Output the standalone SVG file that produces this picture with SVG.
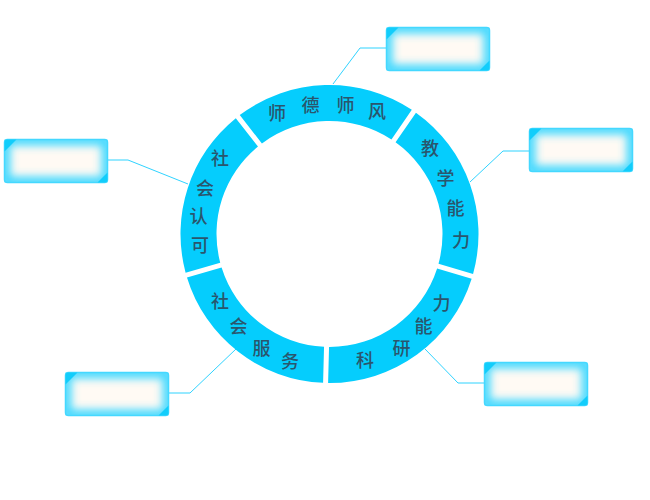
<svg xmlns="http://www.w3.org/2000/svg" width="650" height="500" viewBox="0 0 650 500">
<style>
.seg{fill:#05cdfd}
.lbl{font-family:"Noto Sans CJK SC","Noto Sans",sans-serif;font-size:18px;font-weight:500;fill:#2a566d;text-anchor:middle;dominant-baseline:central}
.conn{fill:none;stroke:#2fd3ff;stroke-width:1}
.bg{fill:#fffaf4}
.glow{fill:none;stroke:#45d9ff;stroke-width:12}
.edge{fill:none;stroke:#45d8ff;stroke-width:1.5}
.tri{fill:#12cdfb}
</style>
<defs>
<filter id="blur" x="-20%" y="-50%" width="140%" height="200%"><feGaussianBlur stdDeviation="4"/></filter>
<clipPath id="cb" clipPathUnits="objectBoundingBox"><rect width="1" height="1"/></clipPath>
<g id="box">
<rect class="bg" x="0" y="0" width="103" height="43" rx="3"/>
<rect class="glow" x="0" y="0" width="103" height="43" rx="3" filter="url(#blur)" clip-path="url(#cb)"/>
<rect class="edge" x="0" y="0" width="103" height="43" rx="3"/>
<path class="tri" d="M0,12 L0,3 Q0,0 3,0 L12,0 Z"/>
<path class="tri" d="M103,33 L103,40 Q103,43 100,43 L93,43 Z"/>
</g>
</defs>
<g id="connectors">
<polyline class="conn" points="333,84 360,48 386,48"/>
<polyline class="conn" points="470,182 503,151 529,151"/>
<polyline class="conn" points="425,349 458,383 484,383"/>
<polyline class="conn" points="236,349 190,393 169,393"/>
<polyline class="conn" points="188,184 128,160 107,160"/>
</g>
<g id="seg-shidefeng">
<path class="seg" d="M239.74,115.08 A149,149 0 0 1 411.82,109.81 L391.44,139.48 A113,113 0 0 0 261.91,143.44 Z"/>
<text class="lbl" x="277" y="112">师</text>
<text class="lbl" x="310.5" y="104">德</text>
<text class="lbl" x="345.5" y="104">师</text>
<text class="lbl" x="377" y="110">风</text>
</g>
<g id="seg-jiaoxue">
<path class="seg" d="M415.95,112.64 A149,149 0 0 1 473.06,273.92 L438.53,263.69 A113,113 0 0 0 395.56,142.31 Z"/>
<text class="lbl" x="430" y="147">教</text>
<text class="lbl" x="445.5" y="176.5">学</text>
<text class="lbl" x="455.5" y="206.5">能</text>
<text class="lbl" x="461" y="238.5">力</text>
</g>
<g id="seg-keyan">
<path class="seg" d="M471.65,278.71 A149,149 0 0 1 328.1,383 L329.05,347 A113,113 0 0 0 437.12,268.5 Z"/>
<text class="lbl" x="365" y="358.5">科</text>
<text class="lbl" x="401.5" y="346.5">研</text>
<text class="lbl" x="423.5" y="325">能</text>
<text class="lbl" x="441.5" y="301.5">力</text>
</g>
<g id="seg-fuwu">
<path class="seg" d="M323.1,382.87 A149,149 0 0 1 186.98,277.46 L221.6,267.55 A113,113 0 0 0 324.04,346.86 Z"/>
<text class="lbl" x="220" y="300">社</text>
<text class="lbl" x="238.5" y="325">会</text>
<text class="lbl" x="261.5" y="346.5">服</text>
<text class="lbl" x="290" y="360">务</text>
</g>
<g id="seg-renke">
<path class="seg" d="M185.6,272.67 A149,149 0 0 1 235.81,118.14 L257.97,146.52 A113,113 0 0 0 220.22,262.74 Z"/>
<text class="lbl" x="220" y="157">社</text>
<text class="lbl" x="205" y="186.5">会</text>
<text class="lbl" x="198.5" y="215">认</text>
<text class="lbl" x="200" y="243.5">可</text>
</g>
<g id="box-top"><use href="#box" x="386.5" y="27.5"/></g>
<g id="box-right"><use href="#box" x="529.5" y="128.5"/></g>
<g id="box-bottomright"><use href="#box" x="484.5" y="362.5"/></g>
<g id="box-bottomleft"><use href="#box" x="65.5" y="372.5"/></g>
<g id="box-left"><use href="#box" x="4.5" y="139.5"/></g>
</svg>
